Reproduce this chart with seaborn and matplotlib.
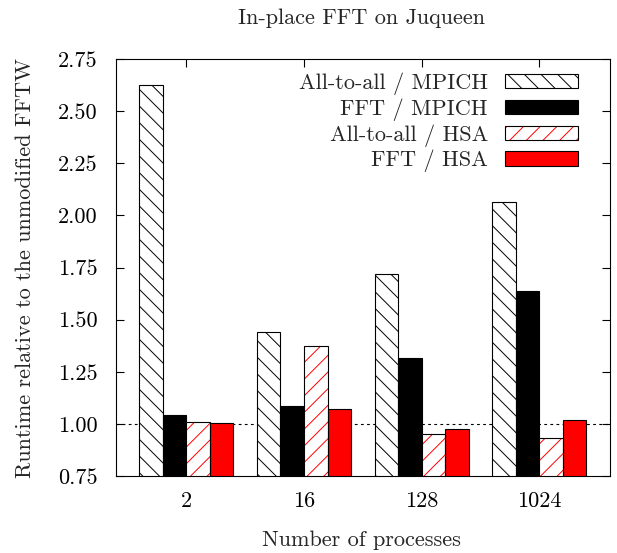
import matplotlib
matplotlib.use("Agg")
import matplotlib.pyplot as plt
import matplotlib.patches as mpatches
import numpy as np
import pandas as pd
import seaborn as sns

# Data
processes = ["2", "16", "128", "1024"]
series = ["All-to-all / MPICH", "FFT / MPICH", "All-to-all / HSA", "FFT / HSA"]
a2a_mpich = [2.625, 1.439, 1.72, 2.064]
fft_mpich = [1.043, 1.086, 1.317, 1.637]
a2a_hsa = [1.008, 1.373, 0.95, 0.93]
fft_hsa = [1.003, 1.07, 0.975, 1.019]
yticks = [0.75, 1.00, 1.25, 1.50, 1.75, 2.00, 2.25, 2.50, 2.75]

FS = 16


def generate_graph():
    sns.set_theme(style="white")
    plt.rcParams["font.family"] = ["cmr10", "DejaVu Serif"]
    plt.rcParams["mathtext.fontset"] = "cm"
    plt.rcParams["axes.unicode_minus"] = False
    plt.rcParams["hatch.linewidth"] = 0.7

    df = pd.DataFrame({
        "procs": processes * 4,
        "series": np.repeat(series, len(processes)),
        "value": a2a_mpich + fft_mpich + a2a_hsa + fft_hsa,
    })

    fig = plt.figure(figsize=(6.17, 5.53), dpi=100)
    ax = fig.add_axes([0.1875, 0.1392, 0.8011, 0.7541])

    palette = {series[0]: "white", series[1]: "black",
               series[2]: "white", series[3]: "red"}
    sns.barplot(data=df, x="procs", y="value", hue="series", order=processes,
                hue_order=series, palette=palette, width=0.8, saturation=1,
                edgecolor="black", linewidth=0.8, legend=False, ax=ax, zorder=2)

    # styling per series
    for i, cont in enumerate(ax.containers):
        for p in cont.patches:
            if i == 0:
                p.set_hatch("\\\\")
            elif i == 2:
                # red hatch, black outline drawn on top
                p.set_hatch("//")
                p.set_edgecolor("red")
                p.set_linewidth(0)
                ax.add_patch(mpatches.Rectangle(p.get_xy(), p.get_width(), p.get_height(),
                                                fill=False, edgecolor="black",
                                                linewidth=0.8, zorder=2.1))

    # reference line at 1
    ax.axhline(1.0, color="black", linewidth=0.8, linestyle=(0, (2.5, 3)), zorder=1)

    ax.set_xlim(-0.6, 3.6)
    ax.set_ylim(0.75, 2.75)
    ax.set_yticks(yticks)
    ax.set_yticklabels([f"{v:.2f}" for v in yticks])

    for s in ax.spines.values():
        s.set_color("black")
        s.set_linewidth(0.8)
    ax.tick_params(axis="y", direction="in", length=6, width=0.8, left=True,
                   right=True, labelsize=FS, pad=13, colors="black")
    ax.tick_params(axis="x", direction="in", length=6, width=0.8, bottom=True,
                   top=True, labelsize=FS, pad=11, colors="black")
    ax.set_axisbelow(True)

    ax.set_xlabel("Number of processes", fontsize=FS, va="center")
    ax.xaxis.set_label_coords(0.498, -0.153)
    ax.set_ylabel("Runtime relative to the unmodified FFTW", fontsize=FS, va="center")
    ax.yaxis.set_label_coords(-0.1835, 0.5)
    ax.set_title("In-place FFT on Juqueen", fontsize=FS, x=0.498, y=1.098,
                 va="center", pad=0)

    # legend
    h0 = mpatches.Patch(facecolor="white", edgecolor="black", hatch="\\\\", linewidth=0.8)
    h1 = mpatches.Patch(facecolor="black", edgecolor="black", linewidth=0.8)
    h2 = (mpatches.Patch(facecolor="white", edgecolor="red", hatch="//", linewidth=0),
          mpatches.Patch(fill=False, edgecolor="black", linewidth=0.8))
    h3 = mpatches.Patch(facecolor="red", edgecolor="black", linewidth=0.8)
    ax.legend([h0, h1, h2, h3], series, loc="upper right",
              bbox_to_anchor=(0.936, 0.968), frameon=False, fontsize=FS,
              markerfirst=False, handlelength=3.3, handleheight=0.6,
              handletextpad=0.77, labelspacing=0.15, borderpad=0, borderaxespad=0)

    plt.savefig("out.png", dpi=100)


if __name__ == "__main__":
    generate_graph()
